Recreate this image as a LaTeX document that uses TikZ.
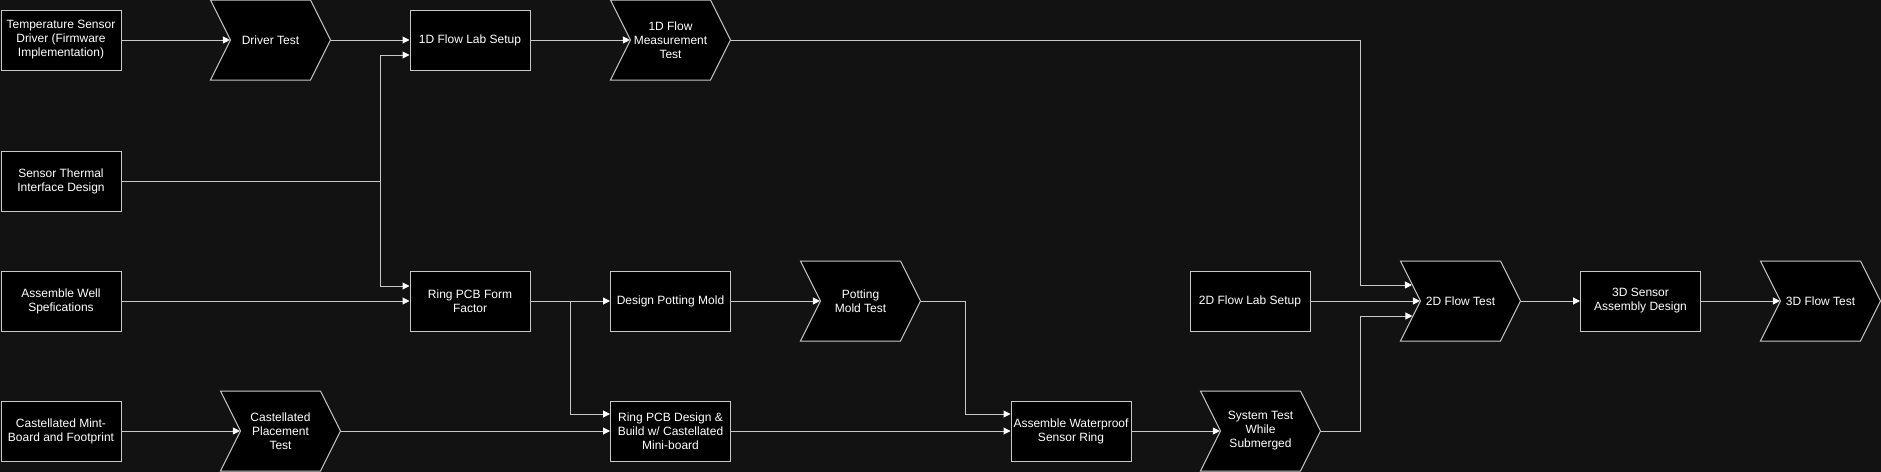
\documentclass[tikz,border=0pt]{standalone}
\usepackage{fontspec}
\setmainfont{Liberation Sans}
\usetikzlibrary{shapes.symbols,arrows.meta}
\definecolor{bgdark}{HTML}{121212}
\definecolor{linegray}{HTML}{C8C8C8}
\tikzset{
  task/.style={draw=linegray, fill=black, text=white, line width=1pt,
    minimum width=120, minimum height=60, inner sep=1, align=center,
    font=\fontsize{12}{14}\selectfont},
  check/.style={task, signal, signal to=east, signal from=west,
    signal pointer angle=126.87, minimum height=80},
  link/.style={draw=linegray, line width=1pt,
    -{Triangle[length=7pt,width=7pt,color=white]}},
}
\begin{document}
\begin{tikzpicture}[x=1pt,y=1pt]
  \useasboundingbox (0,0) rectangle (1881,-471);
  \fill[bgdark] (-6,6) rectangle (1887,-477);

  \node[task] (temp) at (61,-40) {Temperature Sensor\\Driver (Firmware\\Implementation)};
  \node[check] (drv) at (270.5,-40) {Driver Test};
  \node[task] (flab) at (470,-40) {1D Flow Lab Setup};
  \node[check] (fmt) at (670.5,-40) {1D Flow\\Measurement\\Test};
  \node[task] (sti) at (61,-181) {Sensor Thermal\\Interface Design};
  \node[task] (awell) at (61,-301) {Assemble Well\\Spefications};
  \node[task] (cmint) at (61,-431) {Castellated Mint-\\Board and Footprint};
  \node[check] (cplace) at (280.5,-431) {Castellated\\Placement\\Test};
  \node[task] (ringff) at (470,-301) {Ring PCB Form\\Factor};
  \node[task] (dpm) at (670.5,-301) {Design Potting Mold};
  \node[check] (pmt) at (860.5,-301) {Potting\\Mold Test};
  \node[task] (ringdb) at (670.5,-431) {Ring PCB Design \&\\Build w/ Castellated\\Mini-board};
  \node[task] (awp) at (1071,-431) {Assemble Waterproof\\Sensor Ring};
  \node[check] (syst) at (1260.5,-431) {System Test\\While\\Submerged};
  \node[task] (flab2) at (1250,-301) {2D Flow Lab Setup};
  \node[check] (ft2) at (1460.5,-301) {2D Flow Test};
  \node[task] (sad3) at (1640.5,-301) {3D Sensor\\Assembly Design};
  \node[check] (ft3) at (1820.5,-301) {3D Flow Test};

  \coordinate (jsti) at (380,-181);
  \coordinate (jff) at (570,-301);
  \coordinate (jpmt) at (965,-301);
  \coordinate (jfmt) at (1360,-40);
  \coordinate (jsys) at (1360,-431);

  \draw[link] (temp.east) -- (drv.west);
  \draw[link] (drv.east) -- (flab.west);
  \draw[link] (flab.east) -- (fmt.west);
  \draw[link] (sti.east) -- (jsti) |- ([yshift=-15]flab.west);
  \draw[link] (jsti) |- ([yshift=15]ringff.west);
  \draw[link] (awell.east) -- (ringff.west);
  \draw[link] (ringff.east) -- (dpm.west);
  \draw[link] (jff) |- ([yshift=17]ringdb.west);
  \draw[link] (cmint.east) -- (cplace.west);
  \draw[link] (cplace.east) -- (ringdb.west);
  \draw[link] (dpm.east) -- (pmt.west);
  \draw[link] (pmt.east) -- (jpmt) |- ([yshift=17]awp.west);
  \draw[link] (ringdb.east) -- (awp.west);
  \draw[link] (awp.east) -- (syst.west);
  \draw[link] (fmt.east) -- (jfmt) |- ([xshift=-8,yshift=16]ft2.west);
  \draw[link] (flab2.east) -- (ft2.west);
  \draw[link] (syst.east) -- (jsys) |- ([xshift=-7.5,yshift=-15]ft2.west);
  \draw[link] (ft2.east) -- (sad3.west);
  \draw[link] (sad3.east) -- (ft3.west);
\end{tikzpicture}
\end{document}
